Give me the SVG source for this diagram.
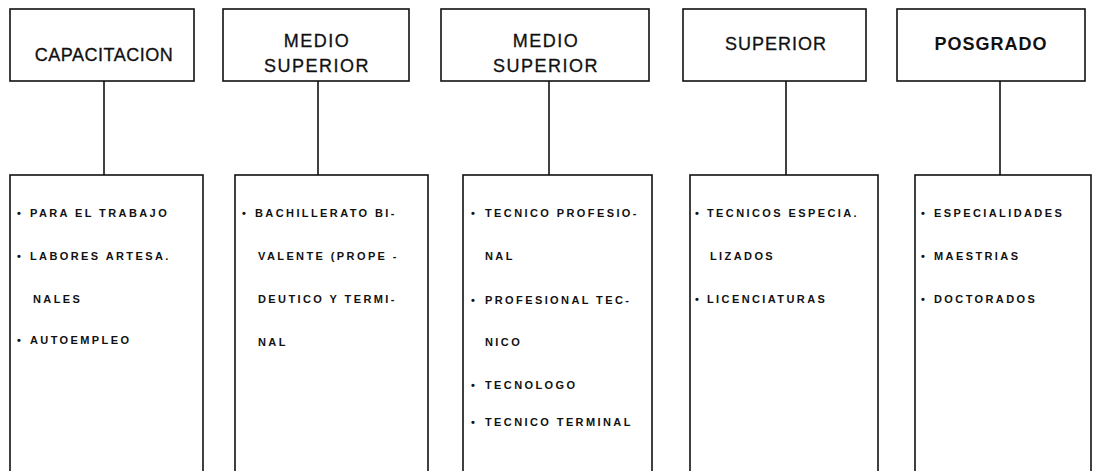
<svg xmlns="http://www.w3.org/2000/svg" width="1099" height="471" viewBox="0 0 1099 471">
<style>
.box{fill:#fff;stroke:#111;stroke-width:1.6}
.ln{stroke:#111;stroke-width:1.6;fill:none}
.h{font-family:"Liberation Sans",Arial,sans-serif;font-size:18px;fill:#111;text-anchor:middle;stroke:#111;stroke-width:0.3}
.t{font-family:"Liberation Sans",Arial,sans-serif;font-size:11px;font-weight:bold;fill:#111;letter-spacing:2.4px}
.b{font-family:"Liberation Sans",Arial,sans-serif;font-size:11px;font-weight:bold;fill:#111}
</style>
<rect width="1099" height="471" fill="#fff"/>
<g id="connectors">
<line class="ln" x1="104" y1="81" x2="104" y2="175"/>
<line class="ln" x1="318" y1="81" x2="318" y2="175"/>
<line class="ln" x1="549" y1="81" x2="549" y2="175"/>
<line class="ln" x1="786" y1="81" x2="786" y2="175"/>
<line class="ln" x1="1000" y1="81" x2="1000" y2="175"/>
</g>
<g id="n1">
<rect class="box" x="10" y="9" width="184" height="72"/>
<text class="h" x="104" y="61" style="letter-spacing:0.5px">CAPACITACION</text>
</g>
<g id="n2">
<rect class="box" x="223" y="9" width="186" height="72"/>
<text class="h" x="317" y="47" style="letter-spacing:1.5px">MEDIO</text>
<text class="h" x="317" y="72" style="letter-spacing:1.5px">SUPERIOR</text>
</g>
<g id="n3">
<rect class="box" x="441" y="9" width="208" height="72"/>
<text class="h" x="546" y="47" style="letter-spacing:1.5px">MEDIO</text>
<text class="h" x="546" y="72" style="letter-spacing:1.5px">SUPERIOR</text>
</g>
<g id="n4">
<rect class="box" x="683" y="9" width="183" height="72"/>
<text class="h" x="776" y="50" style="letter-spacing:1px">SUPERIOR</text>
</g>
<g id="n5">
<rect class="box" x="897" y="9" width="188" height="72"/>
<text class="h" x="991" y="50" style="letter-spacing:1px;font-weight:bold;stroke-width:0">POSGRADO</text>
</g>
<g id="d1">
<rect class="box" x="10" y="175" width="193" height="310"/>
<text class="b" x="17" y="217">•</text><text class="t" x="30" y="217">PARA EL TRABAJO</text>
<text class="b" x="17" y="260">•</text><text class="t" x="30" y="260">LABORES ARTESA.</text>
<text class="t" x="33" y="303">NALES</text>
<text class="b" x="17" y="344">•</text><text class="t" x="30" y="344">AUTOEMPLEO</text>
</g>
<g id="d2">
<rect class="box" x="235" y="175" width="193" height="310"/>
<text class="b" x="242" y="217">•</text><text class="t" x="255" y="217">BACHILLERATO BI-</text>
<text class="t" x="258" y="260">VALENTE (PROPE -</text>
<text class="t" x="258" y="303">DEUTICO Y TERMI-</text>
<text class="t" x="258" y="346">NAL</text>
</g>
<g id="d3">
<rect class="box" x="463" y="175" width="189" height="310"/>
<text class="b" x="471" y="217">•</text><text class="t" x="485" y="217">TECNICO PROFESIO-</text>
<text class="t" x="485" y="260">NAL</text>
<text class="b" x="471" y="304">•</text><text class="t" x="485" y="304">PROFESIONAL TEC-</text>
<text class="t" x="485" y="346">NICO</text>
<text class="b" x="471" y="389">•</text><text class="t" x="485" y="389">TECNOLOGO</text>
<text class="b" x="471" y="426">•</text><text class="t" x="485" y="426">TECNICO TERMINAL</text>
</g>
<g id="d4">
<rect class="box" x="690" y="175" width="188" height="310"/>
<text class="b" x="695" y="217">•</text><text class="t" x="707" y="217">TECNICOS ESPECIA.</text>
<text class="t" x="710" y="260">LIZADOS</text>
<text class="b" x="695" y="303">•</text><text class="t" x="707" y="303">LICENCIATURAS</text>
</g>
<g id="d5">
<rect class="box" x="915" y="175" width="176" height="310"/>
<text class="b" x="921" y="217">•</text><text class="t" x="934" y="217">ESPECIALIDADES</text>
<text class="b" x="921" y="260">•</text><text class="t" x="934" y="260">MAESTRIAS</text>
<text class="b" x="921" y="303">•</text><text class="t" x="934" y="303">DOCTORADOS</text>
</g>
</svg>
